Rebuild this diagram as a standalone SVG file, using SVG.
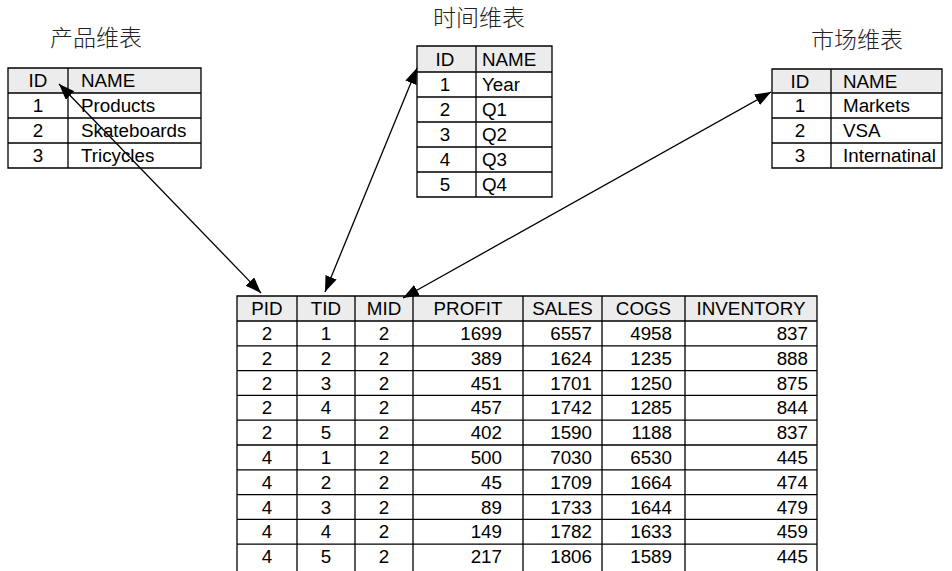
<svg xmlns="http://www.w3.org/2000/svg" width="952" height="571" viewBox="0 0 952 571">
<style>
.t{font-family:"Liberation Sans",Arial,sans-serif;font-size:18.8px;fill:#000}
.c{text-anchor:middle}
.r{text-anchor:end}
.ti{font-family:"Noto Sans CJK SC",sans-serif;font-size:23px;font-weight:300;fill:#222;text-anchor:middle}
.hd{fill:#ececec;stroke:none}
.ln{stroke:#000;stroke-width:1.3;fill:none}
.ar{stroke:#000;stroke-width:1.3;fill:none;marker-start:url(#ah);marker-end:url(#ah)}
</style>
<defs>
<marker id="ah" markerUnits="userSpaceOnUse" markerWidth="18" markerHeight="14" refX="16" refY="6" orient="auto-start-reverse">
<path d="M0,0 L16,6 L0,12 z" fill="#000"/>
</marker>
</defs>
<rect width="952" height="571" fill="#fff"/>

<g id="product">
<text class="ti" x="96" y="46">产品维表</text>
<rect class="hd" x="8" y="68" width="193" height="25"/>
<path class="ln" d="M8,68 H201 V168 H8 Z M8,93 H201 M8,118 H201 M8,143 H201 M68,68 V168"/>
<text class="t c" x="38" y="87">ID</text><text class="t" x="81" y="87">NAME</text>
<text class="t c" x="38" y="112">1</text><text class="t" x="81" y="112">Products</text>
<text class="t c" x="38" y="137">2</text><text class="t" x="81" y="137">Skateboards</text>
<text class="t c" x="38" y="162">3</text><text class="t" x="81" y="162">Tricycles</text>
</g>

<g id="time">
<text class="ti" x="479" y="26">时间维表</text>
<rect class="hd" x="417" y="46" width="135" height="26"/>
<path class="ln" d="M417,46 H552 V197 H417 Z M417,72 H552 M417,97 H552 M417,122 H552 M417,147 H552 M417,172 H552 M476,46 V197"/>
<text class="t c" x="445" y="65.5">ID</text><text class="t" x="482" y="65.5">NAME</text>
<text class="t c" x="445" y="91">1</text><text class="t" x="482" y="91">Year</text>
<text class="t c" x="445" y="116">2</text><text class="t" x="482" y="116">Q1</text>
<text class="t c" x="445" y="141">3</text><text class="t" x="482" y="141">Q2</text>
<text class="t c" x="445" y="166">4</text><text class="t" x="482" y="166">Q3</text>
<text class="t c" x="445" y="191">5</text><text class="t" x="482" y="191">Q4</text>
</g>

<g id="market">
<text class="ti" x="857" y="48">市场维表</text>
<rect class="hd" x="772" y="69" width="170" height="24"/>
<path class="ln" d="M772,69 H942 V168 H772 Z M772,93 H942 M772,118 H942 M772,143 H942 M831,69 V168"/>
<text class="t c" x="800" y="87.5">ID</text><text class="t" x="843" y="87.5">NAME</text>
<text class="t c" x="800" y="112">1</text><text class="t" x="843" y="112">Markets</text>
<text class="t c" x="800" y="137">2</text><text class="t" x="843" y="137">VSA</text>
<text class="t c" x="800" y="162">3</text><text class="t" x="843" y="162">Internatinal</text>
</g>

<g id="fact">
<rect class="hd" x="237" y="296" width="580" height="25"/>
<path class="ln" d="M237,580 V296 H817 V580 M237,321 H817 M237,345.8 H817 M237,370.6 H817 M237,395.4 H817 M237,420.2 H817 M237,445 H817 M237,469.8 H817 M237,494.6 H817 M237,519.4 H817 M237,544.2 H817 M297,296 V580 M355,296 V580 M413,296 V580 M523,296 V580 M602,296 V580 M685,296 V580"/>
<g class="t">
<text class="c" x="267" y="315">PID</text><text class="c" x="326" y="315">TID</text><text class="c" x="384" y="315">MID</text><text class="c" x="468" y="315">PROFIT</text><text class="c" x="562.5" y="315">SALES</text><text class="c" x="643.5" y="315">COGS</text><text class="c" x="751" y="315">INVENTORY</text>

<text class="c" x="267" y="339.9">2</text><text class="c" x="326" y="339.9">1</text><text class="c" x="384" y="339.9">2</text><text class="r" x="502" y="339.9">1699</text><text class="r" x="592" y="339.9">6557</text><text class="r" x="672" y="339.9">4958</text><text class="r" x="808" y="339.9">837</text>
<text class="c" x="267" y="364.7">2</text><text class="c" x="326" y="364.7">2</text><text class="c" x="384" y="364.7">2</text><text class="r" x="502" y="364.7">389</text><text class="r" x="592" y="364.7">1624</text><text class="r" x="672" y="364.7">1235</text><text class="r" x="808" y="364.7">888</text>
<text class="c" x="267" y="389.5">2</text><text class="c" x="326" y="389.5">3</text><text class="c" x="384" y="389.5">2</text><text class="r" x="502" y="389.5">451</text><text class="r" x="592" y="389.5">1701</text><text class="r" x="672" y="389.5">1250</text><text class="r" x="808" y="389.5">875</text>
<text class="c" x="267" y="414.3">2</text><text class="c" x="326" y="414.3">4</text><text class="c" x="384" y="414.3">2</text><text class="r" x="502" y="414.3">457</text><text class="r" x="592" y="414.3">1742</text><text class="r" x="672" y="414.3">1285</text><text class="r" x="808" y="414.3">844</text>
<text class="c" x="267" y="439.1">2</text><text class="c" x="326" y="439.1">5</text><text class="c" x="384" y="439.1">2</text><text class="r" x="502" y="439.1">402</text><text class="r" x="592" y="439.1">1590</text><text class="r" x="672" y="439.1">1188</text><text class="r" x="808" y="439.1">837</text>
<text class="c" x="267" y="463.9">4</text><text class="c" x="326" y="463.9">1</text><text class="c" x="384" y="463.9">2</text><text class="r" x="502" y="463.9">500</text><text class="r" x="592" y="463.9">7030</text><text class="r" x="672" y="463.9">6530</text><text class="r" x="808" y="463.9">445</text>
<text class="c" x="267" y="488.7">4</text><text class="c" x="326" y="488.7">2</text><text class="c" x="384" y="488.7">2</text><text class="r" x="502" y="488.7">45</text><text class="r" x="592" y="488.7">1709</text><text class="r" x="672" y="488.7">1664</text><text class="r" x="808" y="488.7">474</text>
<text class="c" x="267" y="513.5">4</text><text class="c" x="326" y="513.5">3</text><text class="c" x="384" y="513.5">2</text><text class="r" x="502" y="513.5">89</text><text class="r" x="592" y="513.5">1733</text><text class="r" x="672" y="513.5">1644</text><text class="r" x="808" y="513.5">479</text>
<text class="c" x="267" y="538.3">4</text><text class="c" x="326" y="538.3">4</text><text class="c" x="384" y="538.3">2</text><text class="r" x="502" y="538.3">149</text><text class="r" x="592" y="538.3">1782</text><text class="r" x="672" y="538.3">1633</text><text class="r" x="808" y="538.3">459</text>
<text class="c" x="267" y="563.1">4</text><text class="c" x="326" y="563.1">5</text><text class="c" x="384" y="563.1">2</text><text class="r" x="502" y="563.1">217</text><text class="r" x="592" y="563.1">1806</text><text class="r" x="672" y="563.1">1589</text><text class="r" x="808" y="563.1">445</text>
</g>
</g>

<g id="connectors">
<line class="ar" x1="59" y1="84" x2="261" y2="293"/>
<line class="ar" x1="325" y1="292" x2="417" y2="68"/>
<line class="ar" x1="403" y1="298" x2="771" y2="92"/>
</g>
</svg>
